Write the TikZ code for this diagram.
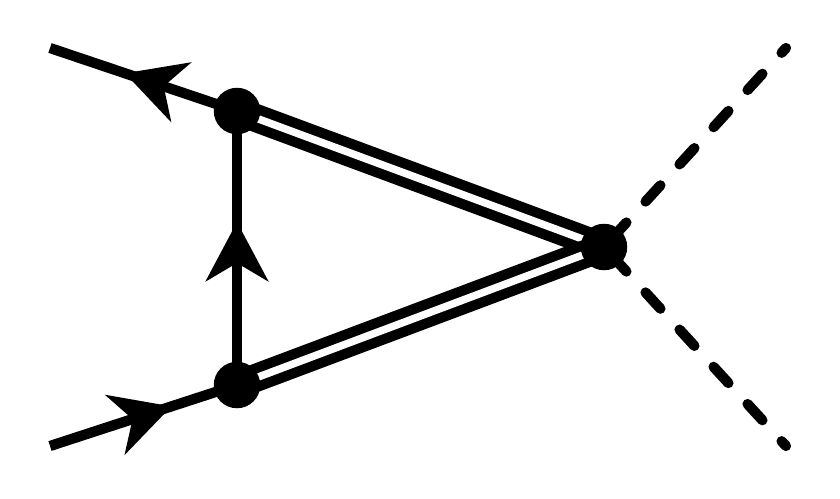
\documentclass[tikz,border=0pt]{standalone}
\usepackage{tikz}
\usetikzlibrary{arrows.meta, decorations.markings}

\tikzset{
  prop/.style={line width=0.205cm},
  fermion/.style={prop, postaction={decorate},
    decoration={markings, mark=at position #1 with {\arrow{Stealth[length=1.18cm, width=1.24cm, inset=0.36cm]}}}},
  heavy/.style={prop, double=white, double distance=0.15cm},
  scalar/.style={prop, line cap=round, dash pattern=on 0.44cm off 0.568cm, dash phase=0.784cm},
  vertex/.style={circle, fill=black, inner sep=0pt, minimum size=0.93cm}
}

\begin{document}
\begin{tikzpicture}[x=0.02cm, y=-0.02cm]
  \fill[white] (0,0) rectangle (840,498);
  \useasboundingbox (0,0) rectangle (840,498);
  % Vertices and free ends
  \coordinate (a) at (237,111);
  \coordinate (b) at (237,385);
  \coordinate (c) at (604,247);
  \coordinate (q1) at (50,48);
  \coordinate (q2) at (50,446);
  \coordinate (s1) at (786,48);
  \coordinate (s2) at (786,446);

  % Fermion lines
  \draw[fermion=0.65] (q2) -- (b);
  \draw[fermion=0.6] (a) -- (q1);
  \draw[fermion=0.595] (b) -- (a);
  % Heavy propagators
  \draw[heavy] (a) -- (c);
  \draw[heavy] (b) -- (c);
  % Scalar lines
  \draw[scalar] (c) -- (s1);
  \draw[scalar] (c) -- (s2);

  % Vertex dots
  \node[vertex] (adot) at (a) {};
  \node[vertex] (bdot) at (b) {};
  \node[vertex] (cdot) at (c) {};
\end{tikzpicture}
\end{document}
